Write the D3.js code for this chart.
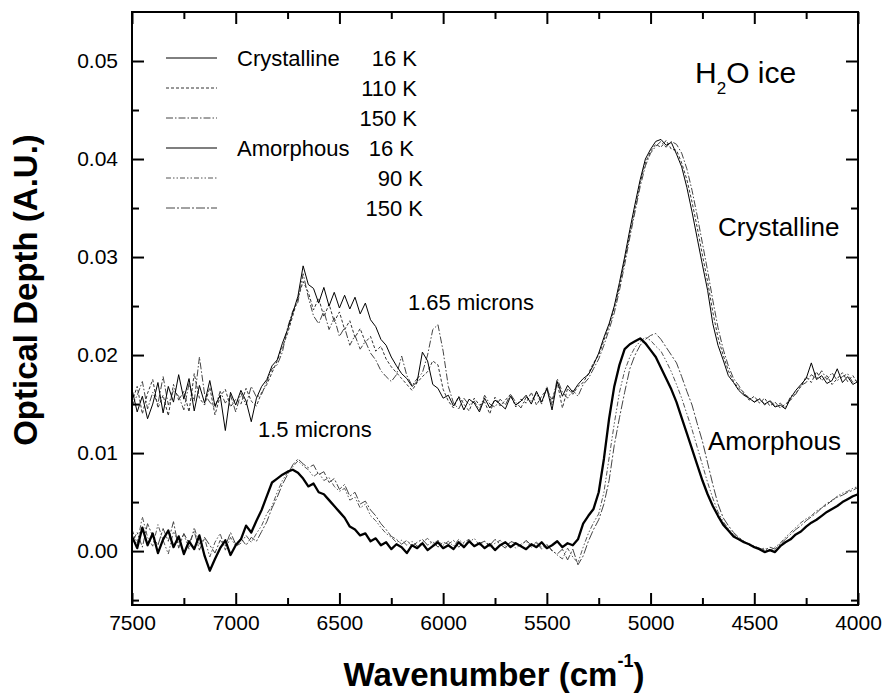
<!DOCTYPE html>
<html>
<head>
<meta charset="utf-8">
<script src="https://cdn.jsdelivr.net/npm/d3@7/dist/d3.min.js"></script>
<style>
	body { margin: 0; background: #fff; }
	text { font-family: "Liberation Sans", Arial, Helvetica, sans-serif; }
</style>
</head>
<body>
<script>
//spectra are sampled every 25 cm-1 from 7500 down to 4000
var wavenumbers = d3.range(7500, 3999, -25);

//optical depth, in units of 1e-3 (one row = 10 points = 250 cm-1)
var cryst16 = [
	16.5, 14.2, 15.8, 13.5, 15.0, 17.2, 14.1, 16.8, 15.2, 18.0, //7500
	15.5, 17.6, 14.3, 16.9, 15.1, 17.4, 14.8, 15.9, 12.3, 16.2, //7250
	14.9, 16.4, 15.3, 13.2, 15.6, 16.8, 17.5, 18.9, 19.5, 21.2, //7000
	22.6, 24.3, 26.0, 29.1, 27.2, 26.8, 25.3, 26.9, 25.0, 26.4, //6750
	24.8, 26.1, 24.7, 25.9, 24.2, 25.3, 23.6, 22.9, 21.6, 21.0, //6500
	19.8, 18.9, 18.1, 17.6, 16.8, 17.3, 20.3, 19.4, 17.0, 16.6, //6250
	15.6, 15.9, 14.8, 15.7, 14.4, 15.5, 15.1, 14.2, 15.6, 14.6, //6000
	15.4, 15.0, 14.5, 15.8, 14.9, 15.3, 15.9, 15.0, 16.3, 15.2, //5750
	16.6, 14.4, 17.3, 15.8, 16.9, 16.2, 17.0, 17.6, 18.0, 19.0, //5500
	20.2, 21.8, 23.2, 25.0, 27.4, 30.0, 32.8, 35.4, 37.9, 40.0, //5250
	41.0, 41.8, 42.0, 41.4, 41.7, 40.5, 39.2, 37.1, 34.6, 31.9, //5000
	29.2, 26.6, 23.2, 21.0, 19.5, 17.9, 17.2, 16.4, 15.9, 15.6, //4750
	15.2, 15.5, 15.0, 15.3, 14.7, 14.9, 14.5, 15.6, 16.4, 17.0, //4500
	17.6, 19.2, 17.5, 17.9, 17.1, 17.4, 18.6, 17.2, 17.8, 17.0, //4250
	17.3                                                        //4000
];
var cryst110 = [
	15.2, 16.8, 14.0, 16.1, 17.5, 14.6, 15.9, 13.8, 17.0, 15.4,
	16.3, 14.2, 18.1, 15.6, 14.9, 16.7, 13.9, 15.8, 16.5, 14.7,
	15.5, 15.0, 16.6, 15.3, 14.8, 16.2, 17.0, 18.2, 19.4, 20.8,
	22.2, 24.0, 25.8, 27.5, 26.4, 24.6, 25.8, 23.9, 25.2, 23.4,
	24.4, 22.6, 23.5, 21.8, 22.7, 21.3, 21.9, 20.4, 20.9, 19.6,
	18.8, 18.2, 17.6, 17.0, 16.4, 17.2, 17.8, 18.3, 19.4, 19.0,
	16.5, 15.3, 14.6, 15.8, 15.0, 14.3, 15.6, 14.9, 15.2, 14.0,
	15.7, 14.8, 15.4, 16.0, 14.7, 15.5, 15.1, 16.2, 14.9, 15.8,
	16.5, 15.4, 17.2, 14.6, 16.6, 16.0, 16.8, 17.2, 18.1, 19.2,
	20.0, 21.5, 23.0, 24.8, 27.0, 29.6, 32.4, 35.0, 37.6, 39.6,
	40.8, 41.5, 41.2, 41.9, 41.0, 40.9, 39.6, 37.9, 35.6, 33.0,
	30.2, 27.5, 24.4, 21.8, 20.0, 18.4, 17.3, 16.6, 16.2, 15.4,
	15.8, 15.1, 15.6, 14.8, 15.2, 14.6, 15.0, 15.4, 16.1, 16.8,
	17.8, 17.2, 18.3, 17.4, 17.9, 17.0, 17.6, 18.2, 17.3, 17.9,
	17.1
];
var cryst150 = [
	14.8, 15.9, 17.3, 14.5, 16.2, 15.0, 17.8, 14.9, 16.4, 15.8,
	14.4, 17.1, 15.3, 19.8, 16.0, 15.2, 14.6, 16.3, 15.1, 15.9,
	14.2, 16.1, 14.9, 16.8, 15.7, 16.0, 17.3, 18.6, 19.0, 20.3,
	22.8, 24.5, 25.4, 28.3, 25.9, 24.0, 23.2, 24.5, 22.6, 23.8,
	21.9, 22.8, 21.0, 22.0, 20.6, 21.4, 20.2, 19.5, 18.4, 17.8,
	17.3, 18.0, 19.9, 17.9, 16.9, 17.6, 18.2, 20.0, 22.6, 23.1,
	20.4, 16.8, 15.1, 14.5, 15.6, 14.9, 15.3, 14.4, 15.9, 15.0,
	14.7, 15.5, 14.9, 16.0, 15.2, 14.6, 15.7, 15.3, 16.1, 15.0,
	16.8, 14.9, 17.6, 16.2, 15.6, 16.4, 15.8, 17.0, 17.6, 18.6,
	19.6, 21.0, 22.6, 24.3, 26.6, 29.2, 32.0, 34.6, 37.2, 39.3,
	40.6, 41.3, 41.8, 41.2, 41.8, 41.5, 40.6, 39.0, 36.8, 34.2,
	31.4, 28.6, 25.6, 22.8, 20.6, 18.9, 17.6, 16.9, 16.0, 15.7,
	15.2, 15.6, 14.9, 15.4, 14.8, 15.1, 14.6, 15.8, 16.0, 16.9,
	17.2, 18.0, 17.6, 18.4, 17.5, 18.2, 17.4, 17.8, 18.1, 17.2,
	17.6
];
var amorph16 = [
	1.5, 0.3, 2.4, 0.6, 1.8, -0.2, 1.2, 2.1, 0.4, 1.5,
	-0.3, 1.0, 0.2, 1.6, -0.5, -2.0, -0.8, 0.3, 1.1, -0.4,
	0.6, 1.2, 2.6, 1.9, 3.1, 4.2, 5.6, 7.0, 7.4, 7.8,
	8.1, 8.3, 8.0, 7.4, 6.6, 6.9, 6.0, 5.8, 5.2, 4.6,
	4.0, 3.4, 2.5, 2.2, 1.6, 1.8, 1.0, 1.3, 0.6, 0.9,
	0.2, 0.7, 0.4, -0.2, 0.6, 0.3, 0.8, 0.1, 0.5, 0.9,
	0.3, 0.6, 0.2, 0.9, 0.4, 1.0, 0.5, 0.8, 0.3, 0.7,
	0.1, 0.6, 0.9, 0.4, 0.8, 0.5, 0.2, 0.7, 0.4, 0.9,
	0.3, 0.6, 1.0, 0.4, 0.8, 0.6, 1.2, 2.8, 3.6, 4.3,
	6.0, 9.4, 13.5, 16.8, 19.0, 20.6, 21.1, 21.4, 21.7, 21.2,
	20.5, 19.8, 18.7, 17.6, 16.5, 15.2, 13.6, 12.0, 10.4, 8.8,
	7.2, 5.8, 4.6, 3.6, 2.7, 2.1, 1.5, 1.2, 0.9, 0.7,
	0.4, 0.2, -0.1, 0.1, -0.1, 0.5, 0.9, 1.2, 1.7, 2.0,
	2.5, 2.9, 3.2, 3.6, 4.0, 4.3, 4.6, 5.0, 5.3, 5.6,
	5.8
];
var amorph90 = [
	2.2, 0.8, 3.5, 1.4, 0.5, 2.7, 1.1, -0.3, 2.0, 0.9,
	1.7, 0.2, 2.4, 0.7, 1.3, -0.6, 0.9, 1.8, 0.1, 1.4,
	0.5, 0.8, 1.6, 0.9, 1.8, 2.6, 3.8, 4.6, 6.0, 7.2,
	8.0, 8.6, 9.2, 8.7, 8.3, 7.6, 8.0, 7.2, 7.5, 6.6,
	6.1, 6.4, 5.2, 5.5, 4.4, 4.8, 3.6, 3.1, 2.4, 1.8,
	1.4, 0.9, 1.1, 0.6, 1.0, 0.5, 0.9, 1.3, 0.7, 1.1,
	0.6, 1.0, 0.5, 1.2, 0.7, 0.9, 1.3, 0.6, 1.0, 0.4,
	0.8, 1.1, 0.5, 0.9, 0.3, 0.7, 1.0, 0.4, 0.8, 0.2,
	0.6, 0.1, -0.4, -0.8, 0.3, -0.6, -1.2, 0.4, 1.8, 2.9,
	3.8, 6.0, 9.5, 13.0, 16.2, 18.4, 19.8, 20.8, 21.4, 21.8,
	21.5, 20.9, 20.4, 19.4, 18.3, 17.0, 15.6, 14.0, 12.4, 10.6,
	8.8, 7.0, 5.4, 4.0, 3.0, 2.3, 1.7, 1.3, 1.0, 0.6,
	0.4, 0.2, 0.3, 0.0, 0.4, 0.8, 1.4, 1.9, 2.4, 2.9,
	3.3, 3.6, 4.1, 4.4, 4.9, 5.1, 5.6, 5.9, 6.1, 6.4,
	6.6
];
var amorph150 = [
	0.9, 1.9, 0.4, 2.8, 1.5, 0.6, 2.3, 1.0, 3.0, 0.3,
	1.8, 0.8, 2.0, 0.1, 1.4, 0.6, -0.2, 1.1, 0.5, 1.9,
	0.7, 1.3, 0.6, 1.4, 1.0, 2.0, 3.0, 4.4, 5.5, 6.8,
	7.8, 8.8, 9.4, 8.9, 8.5, 8.8, 7.8, 8.1, 7.0, 7.4,
	6.3, 6.8, 5.6, 6.0, 4.8, 5.1, 4.2, 3.6, 2.8, 2.2,
	1.5, 1.2, 0.7, 1.1, 0.5, 0.9, 1.2, 0.6, 1.0, 0.4,
	0.9, 0.7, 1.1, 0.4, 0.9, 1.2, 0.5, 0.8, 1.0, 0.6,
	1.2, 0.7, 0.3, 1.0, 0.8, 0.5, 1.1, 0.6, 0.9, 0.4,
	0.7, 0.0, -0.3, 0.2, -0.9, 0.2, -1.4, -0.5, 1.0, 2.2,
	3.2, 4.8, 7.2, 10.8, 13.6, 16.2, 18.6, 20.0, 21.0, 21.6,
	22.0, 22.2, 21.6, 20.8, 20.0, 19.2, 17.8, 16.3, 14.9, 13.0,
	11.2, 9.0, 6.8, 4.8, 3.4, 2.6, 1.9, 1.4, 1.0, 0.7,
	0.5, 0.3, 0.1, 0.4, 0.2, 0.7, 1.2, 1.7, 2.2, 2.6,
	3.1, 3.5, 3.9, 4.4, 4.7, 5.2, 5.5, 5.7, 6.0, 6.2,
	6.5
];

//axis ticks
var xTicks = [7500, 7000, 6500, 6000, 5500, 5000, 4500, 4000];
var xMinor = [7250, 6750, 6250, 5750, 5250, 4750, 4250];
var yTicks = [0, 10, 20, 30, 40, 50];
var yMinor = [-5, 5, 15, 25, 35, 45];

//legend text
var legendGroup = ["Crystalline", "", "", "Amorphous", "", ""];
var legendTemp = ["16 K", "110 K", "150 K", "16 K", "90 K", "150 K"];

window.onload = function(){

	var w = 883, h = 696;
	var left = 132, right = 858, top = 12, bottom = 605;

	var svg = d3.select("body")
		.append("svg")
		.attr("width", w)
		.attr("height", h);

	var x = d3.scaleLinear() //wavenumber runs right to left
		.domain([7500, 4000])
		.range([left, right]);

	var y = d3.scaleLinear()
		.domain([-5.5, 55])
		.range([bottom, top]);

	//line styles
	var series = [
		{ values: cryst110, color: "#333", width: 1, dash: "3,2" },
		{ values: cryst150, color: "#444", width: 1, dash: "7,2,1.5,2" },
		{ values: cryst16, color: "#000", width: 1, dash: null },
		{ values: amorph90, color: "#555", width: 1, dash: "5,2,1.5,2,1.5,2" },
		{ values: amorph150, color: "#444", width: 1, dash: "9,2,2,2" },
		{ values: amorph16, color: "#000", width: 2.3, dash: null }
	];
	var legendStyle = [series[2], series[0], series[1], series[5], series[3], series[4]];

	svg.append("clipPath")
		.attr("id", "plotClip")
		.append("rect")
		.attr("x", left)
		.attr("y", top)
		.attr("width", right - left)
		.attr("height", bottom - top);

	var line = d3.line()
		.x(function(d, i){ return x(wavenumbers[i]); })
		.y(function(d){ return y(d); });

	svg.append("g")
		.attr("clip-path", "url(#plotClip)")
		.selectAll(".spectrum")
		.data(series)
		.enter()
		.append("path")
		.attr("class", "spectrum")
		.attr("d", function(d){ return line(d.values); })
		.style("fill", "none")
		.style("stroke", function(d){ return d.color; })
		.style("stroke-width", function(d){ return d.width; })
		.style("stroke-dasharray", function(d){ return d.dash; })
		.style("stroke-linejoin", "round");

	//axes, ticks point inward on all four sides
	function styleAxis(g, size){
		g.select(".domain").remove();
		g.selectAll(".tick line").style("stroke", "#000").style("stroke-width", 2);
		g.attr("font-size", size)
			.attr("font-family", "'Liberation Sans', Arial, Helvetica, sans-serif");
	}

	svg.append("g")
		.attr("transform", "translate(0," + bottom + ")")
		.call(d3.axisBottom(x).tickValues(xTicks).tickSize(-12).tickPadding(10).tickFormat(d3.format("d")))
		.call(styleAxis, 21);

	svg.append("g")
		.attr("transform", "translate(0," + bottom + ")")
		.call(d3.axisBottom(x).tickValues(xMinor).tickSize(-7).tickFormat(""))
		.call(styleAxis, 21);

	svg.append("g")
		.attr("transform", "translate(0," + top + ")")
		.call(d3.axisTop(x).tickValues(xTicks).tickSize(-12).tickFormat(""))
		.call(styleAxis, 21);

	svg.append("g")
		.attr("transform", "translate(0," + top + ")")
		.call(d3.axisTop(x).tickValues(xMinor).tickSize(-7).tickFormat(""))
		.call(styleAxis, 21);

	svg.append("g")
		.attr("transform", "translate(" + left + ",0)")
		.call(d3.axisLeft(y).tickValues(yTicks).tickSize(-12).tickPadding(14)
			.tickFormat(function(d){ return (d / 1000).toFixed(2); }))
		.call(styleAxis, 21);

	svg.append("g")
		.attr("transform", "translate(" + left + ",0)")
		.call(d3.axisLeft(y).tickValues(yMinor).tickSize(-7).tickFormat(""))
		.call(styleAxis, 21);

	svg.append("g")
		.attr("transform", "translate(" + right + ",0)")
		.call(d3.axisRight(y).tickValues(yTicks).tickSize(-12).tickFormat(""))
		.call(styleAxis, 21);

	svg.append("g")
		.attr("transform", "translate(" + right + ",0)")
		.call(d3.axisRight(y).tickValues(yMinor).tickSize(-7).tickFormat(""))
		.call(styleAxis, 21);

	//frame
	svg.append("rect")
		.attr("x", left)
		.attr("y", top)
		.attr("width", right - left)
		.attr("height", bottom - top)
		.style("fill", "none")
		.style("stroke", "#000")
		.style("stroke-width", 2);

	//axis titles
	var xTitle = svg.append("text")
		.attr("x", 494)
		.attr("y", 686)
		.attr("text-anchor", "middle")
		.style("font-size", "33px")
		.style("font-weight", "bold")
		.text("Wavenumber (cm");
	xTitle.append("tspan")
		.attr("dy", -19)
		.style("font-size", "18px")
		.text("-1");
	xTitle.append("tspan")
		.attr("dy", 19)
		.text(")");

	svg.append("text")
		.attr("transform", "translate(37,290) rotate(-90)")
		.attr("text-anchor", "middle")
		.style("font-size", "33px")
		.style("font-weight", "bold")
		.text("Optical Depth (A.U.)");

	//legend
	var rows = svg.selectAll(".legendRow")
		.data(legendTemp)
		.enter()
		.append("g")
		.attr("class", "legendRow")
		.attr("transform", function(d, i){ return "translate(0," + (58 + i * 30) + ")"; });

	rows.append("line")
		.attr("x1", 166)
		.attr("x2", 217)
		.style("stroke", function(d, i){ return legendStyle[i].color; })
		.style("stroke-width", function(d, i){ return Math.min(legendStyle[i].width, 1.2); })
		.style("stroke-dasharray", function(d, i){ return legendStyle[i].dash; });

	rows.append("text")
		.attr("x", 237)
		.attr("y", 8)
		.style("font-size", "22px")
		.text(function(d, i){ return legendGroup[i]; });

	rows.append("text")
		.attr("x", function(d, i){ return i < 3 ? 417 : (i == 3 ? 414 : 423); })
		.attr("y", 8)
		.attr("text-anchor", "end")
		.style("font-size", "22px")
		.text(function(d){ return d; });

	//annotations
	var title = svg.append("text")
		.attr("x", 695)
		.attr("y", 83)
		.style("font-size", "30px")
		.text("H");
	title.append("tspan")
		.attr("dy", 11)
		.style("font-size", "17px")
		.text("2");
	title.append("tspan")
		.attr("dy", -11)
		.text("O ice");

	svg.append("text")
		.attr("x", 718)
		.attr("y", 236)
		.style("font-size", "26px")
		.text("Crystalline");

	svg.append("text")
		.attr("x", 708)
		.attr("y", 450)
		.style("font-size", "26px")
		.text("Amorphous");

	svg.append("text")
		.attr("x", 408)
		.attr("y", 310)
		.style("font-size", "22px")
		.text("1.65 microns");

	svg.append("text")
		.attr("x", 258)
		.attr("y", 437)
		.style("font-size", "22px")
		.text("1.5 microns");
};
</script>
</body>
</html>
